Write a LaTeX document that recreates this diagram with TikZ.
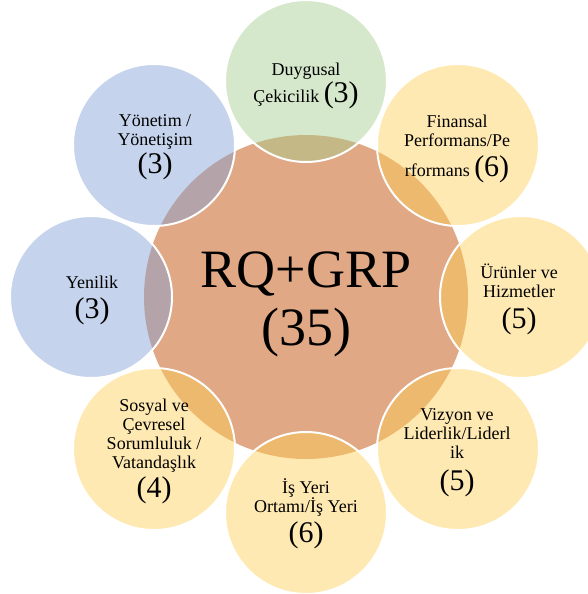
\documentclass[tikz,border=0pt]{standalone}
\usepackage{fontspec}
\setmainfont{Liberation Serif}
\definecolor{hubc}{RGB}{224,168,132}
\definecolor{goldc}{RGB}{255,206,84}
\definecolor{bluec}{RGB}{127,158,213}
\definecolor{greenc}{RGB}{162,204,140}
\newcommand\tally[1]{{\fontsize{30}{30}\selectfont #1}}
\newcommand\fixedlines{\lineskiplimit=-100pt\relax}
\begin{document}
\begin{tikzpicture}[x=1pt,y=-1pt,
  hub/.style={circle,fill=hubc,minimum size=324pt,inner sep=0pt},
  petal/.style={circle,minimum size=162pt,inner sep=0pt,fill opacity=.45,
    draw=white,draw opacity=1,line width=2pt},
  lab/.style={align=center,anchor=base,inner sep=0pt,
    font=\fontsize{18}{19}\selectfont\fixedlines}]
\useasboundingbox (0,0) rectangle (588,594);
\clip (0,0) rectangle (588,594);

% central circle
\node[hub] (hub) at (306,297) {};

% eight surrounding circles
\node[petal,fill=greenc] (p1) at (306,81) {};
\node[petal,fill=goldc]  (p2) at (458,145) {};
\node[petal,fill=goldc]  (p3) at (521,297) {};
\node[petal,fill=goldc]  (p4) at (458,449) {};
\node[petal,fill=goldc]  (p5) at (306,513) {};
\node[petal,fill=goldc]  (p6) at (154,449) {};
\node[petal,fill=bluec]  (p7) at (91,297) {};
\node[petal,fill=bluec]  (p8) at (154,145) {};

% labels (anchored at the baseline of their last line)
\node[align=center,anchor=base,inner sep=0pt,
  font=\fontsize{54}{58}\selectfont\fixedlines] (hubtxt) at (306,345) {RQ+GRP\\(35)};
\node[lab] (t1) at (306,102) {Duygusal\\[8pt]Çekicilik \tally{(3)}};
\node[lab] (t2) at (457,176) {Finansal\\Performans/Pe\\[11pt]rformans \tally{(6)}};
\node[lab] (t3) at (519,328) {Ürünler ve\\Hizmetler\\[12pt]\tally{(5)}};
\node[lab] (t4) at (457,490) {Vizyon ve\\Liderlik/Liderl\\ik\\[13pt]\tally{(5)}};
\node[lab] (t5) at (306,542) {İş Yeri\\Ortamı/İş Yeri\\[11pt]\tally{(6)}};
\node[lab] (t6) at (154,497) {Sosyal ve\\Çevresel\\Sorumluluk /\\Vatandaşlık\\[10pt]\tally{(4)}};
\node[lab] (t7) at (92,318)  {Yenilik\\[11pt]\tally{(3)}};
\node[lab] (t8) at (155,173) {Yönetim /\\Yönetişim\\[9pt]\tally{(3)}};
\end{tikzpicture}
\end{document}
